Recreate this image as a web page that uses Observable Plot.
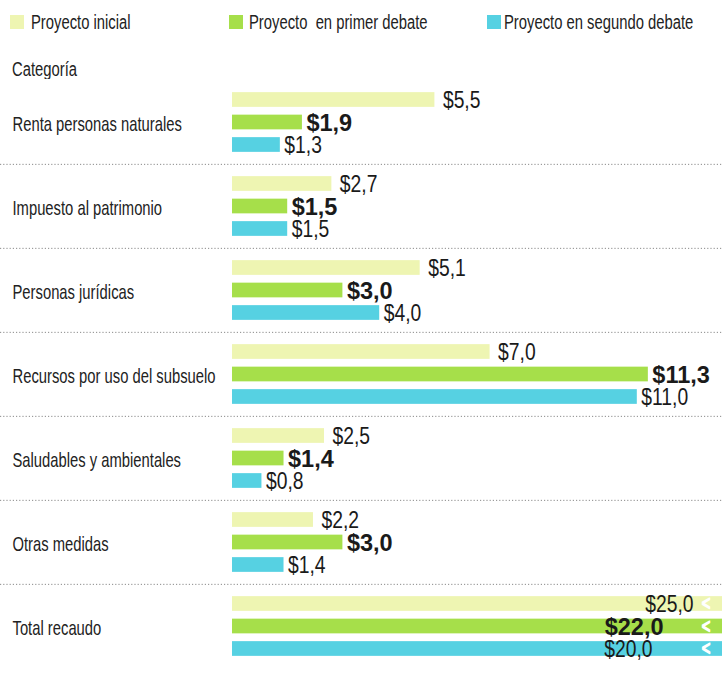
<!DOCTYPE html>
<html><head><meta charset="utf-8">
<script src="https://cdn.jsdelivr.net/npm/d3@7"></script>
<script src="https://cdn.jsdelivr.net/npm/@observablehq/plot@0.6"></script>
<style>
body{margin:0;background:#fff;font-family:"Liberation Sans",Arial,sans-serif;color:#222;}
#head{position:relative;height:79px;width:722px;overflow:hidden;}
.sw{position:absolute;top:15px;width:14px;height:14px;}
.lg{position:absolute;top:9px;font-size:20px;line-height:26px;white-space:pre;transform:scaleX(0.74);transform-origin:0 50%;}
#cat{position:absolute;left:12px;top:56px;font-size:20px;line-height:26px;transform:scaleX(0.74);transform-origin:0 50%;}
</style></head><body>
<div id="head"></div>
<div id="chart"></div>
<script>
const categories = ["Renta personas naturales", "Impuesto al patrimonio", "Personas jurídicas", "Recursos por uso del subsuelo", "Saludables y ambientales", "Otras medidas", "Total recaudo"];
const series = ["Proyecto inicial", "Proyecto  en primer debate", "Proyecto en segundo debate"];
const inicial = [5.5, 2.7, 5.1, 7.0, 2.5, 2.2, 25.0];
const primerDebate = [1.9, 1.5, 3.0, 11.3, 1.4, 3.0, 22.0];
const segundoDebate = [1.3, 1.5, 4.0, 11.0, 0.8, 1.4, 20.0];
const colors = ["#eef5b2", "#a6df4a", "#56d1e2"];
const headerTitle = "Categoría";

const FONT = '"Liberation Sans",Arial,sans-serif';

// header legend
const head = document.getElementById("head");
const swX = [10, 229, 487], txX = [31, 249, 504];
series.forEach((s, i) => {
  const sw = document.createElement("div");
  sw.className = "sw"; sw.style.left = swX[i] + "px"; sw.style.background = colors[i];
  head.appendChild(sw);
  const t = document.createElement("div");
  t.className = "lg"; t.style.left = txX[i] + "px"; t.textContent = s;
  head.appendChild(t);
});
const c = document.createElement("div"); c.id = "cat"; c.textContent = headerTitle; head.appendChild(c);

const W = 722, H = 594, MB = 4;
const values = [inicial, primerDebate, segundoDebate];
const rows = series.map((s, i) => categories.map((cat, j) => ({cat, serie: s, value: values[i][j], total: j === categories.length - 1})));
const fmt = v => "$" + v.toFixed(1).replace(".", ",");
const band = (H - MB) / categories.length;
const barH = 15;
const offs = [-22.5, 0, 22.5];
const lblDx = [8, 4, 4];
const totDx = [-29, -59, -70];

const marks = [];
marks.push(Plot.ruleY(categories.slice(1), {y: d => d, dy: -band / 2, stroke: "#8a8a8a", strokeDasharray: "1.2,2"}));
marks.push(Plot.text(categories, {y: d => d, text: d => d, frameAnchor: "left", dx: 12, dy: 2, textAnchor: "start", fontSize: 20, fill: "#222"}));
rows.forEach((r, i) => {
  const it = (band - barH) / 2 + offs[i], ib = (band - barH) / 2 - offs[i];
  marks.push(Plot.barX(r, {y: "cat", x: "value", fill: colors[i], insetTop: it, insetBottom: ib, clip: true}));
  const common = {y: "cat", text: d => fmt(d.value), dy: offs[i] + 1, fontSize: i === 1 ? 23.5 : 23, fill: "#1a1a1a",
    fontWeight: i === 1 ? "bold" : "normal"};
  marks.push(Plot.text(r.filter(d => !d.total), {...common, x: "value", dx: lblDx[i], textAnchor: "start"}));
  marks.push(Plot.text(r.filter(d => d.total), {y: "cat", text: () => "<", frameAnchor: "right", dx: -12, dy: offs[i], fontSize: 20, fill: "white", stroke: "white", strokeWidth: 1.5}));
  marks.push(Plot.text(r.filter(d => d.total), {...common, frameAnchor: "right", dx: totDx[i], textAnchor: "end"}));
});

const chart = Plot.plot({
  width: W, height: H,
  marginLeft: 0, marginRight: 0, marginTop: 0, marginBottom: MB,
  style: {fontFamily: FONT, background: "white", color: "#222"},
  x: {domain: [0, 13.315], range: [232, 722], axis: null},
  y: {domain: categories, range: [0, H - MB], padding: 0, axis: null},
  marks
});
// condense the regular-weight texts horizontally (narrow typeface look)
chart.querySelectorAll("text").forEach(t => {
  const g = t.closest("g[font-weight]");
  if (g && g.getAttribute("font-weight") === "bold") return;
  const fs = +(t.closest("g[font-size]")?.getAttribute("font-size") || 20);
  const s = fs <= 20 ? 0.74 : 0.84;
  const x = +(t.getAttribute("x") || 0);
  const tr = t.getAttribute("transform") || "";
  t.setAttribute("transform", `${tr} translate(${x},0) scale(${s},1) translate(${-x},0)`);
});
document.getElementById("chart").appendChild(chart);
</script>
</body></html>
